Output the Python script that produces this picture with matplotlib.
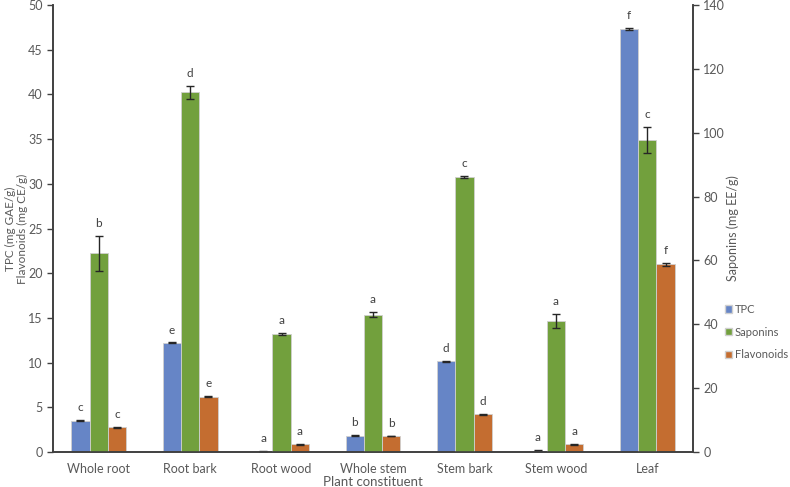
import matplotlib
matplotlib.use("Agg")
import matplotlib.pyplot as plt
import numpy as np
from matplotlib.patches import Patch

plt.rcParams['font.family'] = ['Lato', 'DejaVu Sans']

categories = ["Whole root", "Root bark", "Root wood", "Whole stem", "Stem bark", "Stem wood", "Leaf"]
tpc = [3.5, 12.2, 0.05, 1.8, 10.15, 0.15, 47.3]
tpc_err = [0.08, 0.05, 0.02, 0.06, 0.05, 0.03, 0.15]
tpc_letters = ["c", "e", "a", "b", "d", "a", "f"]
saponins = [62.2, 112.6, 37.0, 43.0, 86.2, 41.0, 97.7]
saponins_err = [5.5, 2.1, 0.4, 0.8, 0.3, 2.1, 4.2]
saponins_letters = ["b", "d", "a", "a", "c", "a", "c"]
flavonoids = [2.75, 6.2, 0.85, 1.8, 4.2, 0.85, 21.0]
flavonoids_err = [0.07, 0.04, 0.03, 0.04, 0.04, 0.03, 0.15]
flavonoids_letters = ["c", "e", "a", "b", "d", "a", "f"]

c_tpc = "#6685C6"
c_sap = "#72A03D"
c_fla = "#C46D30"
txt = "#595959"

fig = plt.figure(figsize=(7.9, 4.87), dpi=100)
ax = fig.add_axes([53/790, 35/487, 640/790, 447/487])
ax2 = ax.twinx()

x = np.arange(len(categories))
w = 0.2
ekw = dict(ecolor="#262626", elinewidth=1, capsize=3, capthick=1)
ax.bar(x - w, tpc, w, yerr=tpc_err, color=c_tpc, edgecolor="#D0D0D0", linewidth=0.6, error_kw=ekw, zorder=2)
ax.bar(x + w, flavonoids, w, yerr=flavonoids_err, color=c_fla, edgecolor="#D0D0D0", linewidth=0.6, error_kw=ekw, zorder=2)
ax2.bar(x, saponins, w, yerr=saponins_err, color=c_sap, edgecolor="#D0D0D0", linewidth=0.6, error_kw=ekw, zorder=2)

for i in range(len(categories)):
    ax.annotate(tpc_letters[i], (x[i] - w, tpc[i] + tpc_err[i]), xytext=(0, 5), textcoords="offset points",
                ha="center", va="bottom", fontsize=8.5, color="#404040")
    ax.annotate(flavonoids_letters[i], (x[i] + w, flavonoids[i] + flavonoids_err[i]), xytext=(0, 5), textcoords="offset points",
                ha="center", va="bottom", fontsize=8.5, color="#404040")
    ax2.annotate(saponins_letters[i], (x[i], saponins[i] + saponins_err[i]), xytext=(0, 5), textcoords="offset points",
                 ha="center", va="bottom", fontsize=8.5, color="#404040")

ax.set_xlim(-0.5, len(categories) - 0.5)
ax.set_ylim(0, 50)
ax2.set_ylim(0, 140)
ax.set_yticks(np.arange(0, 51, 5))
ax2.set_yticks(np.arange(0, 141, 20))
ax.set_xticks(x)
ax.set_xticklabels(categories)

for a in (ax, ax2):
    a.spines['top'].set_visible(False)
    for s in ('left', 'right', 'bottom'):
        a.spines[s].set_color("#404040")
        a.spines[s].set_linewidth(1.2)
    a.tick_params(axis='y', direction='out', length=4, width=1, color="#404040", labelsize=9, labelcolor=txt)
ax.tick_params(axis='x', length=0, labelsize=9, labelcolor=txt, pad=8)

ax.set_ylabel("TPC (mg GAE/g)\nFlavonoids (mg CE/g)", fontsize=8.5, color=txt, linespacing=1.1)
ax.yaxis.set_label_coords(-0.039, 0.5)
ax2.set_ylabel("Saponins (mg EE/g)", fontsize=9, color=txt)
ax2.yaxis.set_label_coords(1.052, 0.5)
ax.set_xlabel("Plant constituent", fontsize=9.5, color=txt, labelpad=1)

handles = [Patch(facecolor=c_tpc, edgecolor="#D0D0D0"), Patch(facecolor=c_sap, edgecolor="#D0D0D0"),
           Patch(facecolor=c_fla, edgecolor="#D0D0D0")]
fig.legend(handles, ["TPC", "Saponins", "Flavonoids"], loc="center left", bbox_to_anchor=(725/790, 1 - 332/487),
           frameon=False, fontsize=8, labelcolor=txt, handlelength=0.65, handleheight=0.65, handletextpad=0.25,
           labelspacing=1.05, borderaxespad=0, borderpad=0)

fig.savefig("out.png", dpi=100)
